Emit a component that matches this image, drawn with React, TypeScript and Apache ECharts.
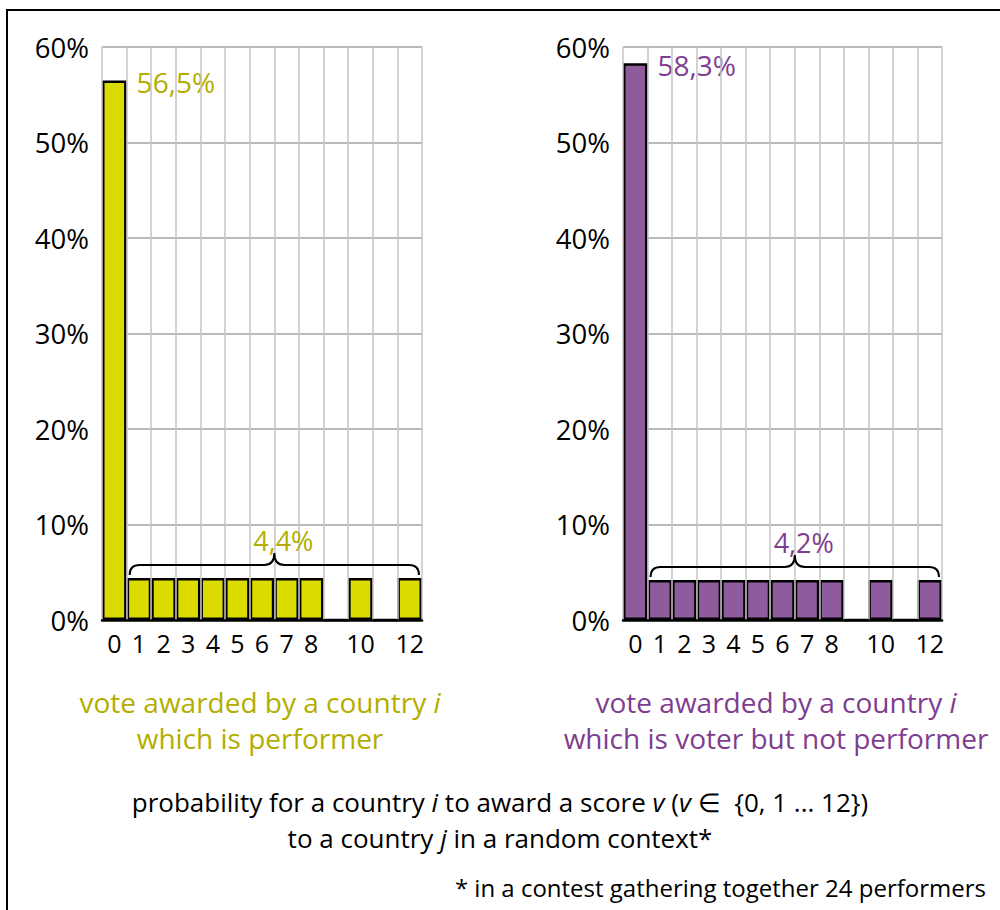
import React, { useEffect, useRef } from "react";
import * as echarts from "echarts";

const scores = ["0", "1", "2", "3", "4", "5", "6", "7", "8", "9", "10", "11", "12"];
const scoreLabels = ["0", "1", "2", "3", "4", "5", "6", "7", "8", "", "10", "", "12"];
const performerShares = [56.5, 4.4, 4.4, 4.4, 4.4, 4.4, 4.4, 4.4, 4.4, 0, 4.4, 0, 4.4];
const voterShares = [58.3, 4.2, 4.2, 4.2, 4.2, 4.2, 4.2, 4.2, 4.2, 0, 4.2, 0, 4.2];
// brace: [first score index, last score index, share of each non-zero score]
const performerBrace = [1, 12, 4.4];
const voterBrace = [1, 12, 4.2];
const yTicks = [0, 10, 20, 30, 40, 50, 60];

const YELLOW = "#dcdb00";
const YELLOW_TEXT = "#b3ad00";
const PURPLE = "#8e5b9d";
const PURPLE_TEXT = "#7f3d90";
const FONT = "Open Sans";

const fmt = (v: number) => v.toFixed(1).replace(".", ",") + "%";

function barSeries(values: number[], idx: number, color: string, textColor: string) {
  return {
    type: "bar",
    xAxisIndex: idx,
    yAxisIndex: idx,
    barWidth: "100%",
    barCategoryGap: 0,
    itemStyle: { color, borderColor: "#000", borderWidth: 2.5 },
    data: values.map((v, i) =>
      i === 0
        ? {
            value: v,
            label: {
              show: true,
              position: ["100%", 0],
              offset: [10, 2],
              align: "left",
              verticalAlign: "middle",
              formatter: (p: any) => fmt(p.value),
              color: textColor,
              fontSize: 28,
              fontFamily: FONT,
            },
          }
        : v
    ),
    z: 3,
  };
}

function braceSeries(brace: number[], idx: number, textColor: string) {
  return {
    type: "custom",
    xAxisIndex: idx,
    yAxisIndex: idx,
    clip: false,
    z: 5,
    encode: { x: [0, 1], y: 2 },
    data: [brace],
    renderItem: (params: any, api: any) => {
      const a = api.coord([api.value(0), api.value(2)]);
      const b = api.coord([api.value(1), api.value(2)]);
      const w = api.size([1, 0])[0];
      const L = a[0] - w / 2 + 3;
      const R = b[0] + w / 2 - 3;
      const T = (a[0] - w / 2 + b[0] + w / 2) / 2;
      const yb = a[1] - 3;
      const ym = a[1] - 13;
      const yt = a[1] - 25;
      const d =
        `M${L},${yb} Q${L},${ym} ${L + 10},${ym} L${T - 10},${ym} Q${T},${ym} ${T},${yt} ` +
        `Q${T},${ym} ${T + 10},${ym} L${R - 10},${ym} Q${R},${ym} ${R},${yb}`;
      return {
        type: "group",
        children: [
          {
            type: "path",
            shape: { pathData: d },
            style: { fill: "none", stroke: "#000", lineWidth: 2 },
          },
          {
            type: "text",
            x: T + 9,
            y: a[1] - 37,
            style: {
              text: fmt(api.value(2)),
              fill: textColor,
              font: `27px "${FONT}"`,
              align: "center",
              verticalAlign: "middle",
            },
          },
        ],
      };
    },
  };
}

function xAxis(idx: number) {
  return {
    type: "category",
    gridIndex: idx,
    data: scores,
    boundaryGap: true,
    axisLine: { show: true, lineStyle: { color: "#000", width: 2.5 } },
    axisTick: { show: false },
    axisLabel: {
      interval: 0,
      margin: 10,
      color: "#000",
      fontSize: 25,
      fontFamily: FONT,
      formatter: (_v: string, i: number) => scoreLabels[i],
    },
    splitLine: { show: true, interval: 0, lineStyle: { color: "#c4c4c4", width: 1.5 } },
    z: 4,
  };
}

function yAxis(idx: number) {
  return {
    type: "value",
    gridIndex: idx,
    min: yTicks[0],
    max: yTicks[yTicks.length - 1],
    interval: yTicks[1] - yTicks[0],
    axisLine: { show: false },
    axisTick: { show: false },
    axisLabel: {
      margin: 13,
      color: "#000",
      fontSize: 27.5,
      fontFamily: FONT,
      formatter: "{value}%",
    },
    splitLine: { show: true, lineStyle: { color: "#a3a3a3", width: 1.5 } },
  };
}

export default function App() {
  const ref = useRef<HTMLDivElement>(null);
  useEffect(() => {
    if (!ref.current) return;
    const chart = echarts.init(ref.current, null, { renderer: "svg" });
    const it = { fontStyle: "italic", fontFamily: FONT };
    chart.setOption({
      animation: false,
      backgroundColor: "#fff",
      textStyle: { fontFamily: FONT },
      grid: [
        { left: 102, top: 47, width: 320, height: 573 },
        { left: 623, top: 47, width: 319, height: 573 },
      ],
      xAxis: [xAxis(0), xAxis(1)],
      yAxis: [yAxis(0), yAxis(1)],
      series: [
        barSeries(performerShares, 0, YELLOW, YELLOW_TEXT),
        barSeries(voterShares, 1, PURPLE, PURPLE_TEXT),
        braceSeries(performerBrace, 0, YELLOW_TEXT),
        braceSeries(voterBrace, 1, PURPLE_TEXT),
      ],
      graphic: [
        {
          type: "rect",
          shape: { x: 7, y: 10, width: 1000, height: 920 },
          style: { fill: "none", stroke: "#000", lineWidth: 2 },
          silent: true,
        },
        {
          type: "text",
          x: 260,
          y: 720,
          style: {
            text: "vote awarded by a country {i|i}\nwhich is performer",
            fill: YELLOW_TEXT,
            fontSize: 28,
            fontFamily: FONT,
            align: "center",
            verticalAlign: "middle",
            lineHeight: 36,
            rich: { i: { ...it, fontSize: 28, fill: YELLOW_TEXT } },
          },
        },
        {
          type: "text",
          x: 776,
          y: 720,
          style: {
            text: "vote awarded by a country {i|i}\nwhich is voter but not performer",
            fill: PURPLE_TEXT,
            fontSize: 28,
            fontFamily: FONT,
            align: "center",
            verticalAlign: "middle",
            lineHeight: 36,
            rich: { i: { ...it, fontSize: 28, fill: PURPLE_TEXT } },
          },
        },
        {
          type: "text",
          x: 500,
          y: 820,
          style: {
            text:
              "probability for a country {i|i} to award a score {i|v} ({i|v} ∈  {0, 1 ... 12})\nto a country {i|j} in a random context*",
            fill: "#000",
            fontSize: 26,
            fontFamily: FONT,
            align: "center",
            verticalAlign: "middle",
            lineHeight: 36,
            rich: { i: { ...it, fontSize: 26, fill: "#000" } },
          },
        },
        {
          type: "text",
          x: 986,
          y: 887,
          style: {
            text: "* in a contest gathering together 24 performers",
            fill: "#000",
            fontSize: 24,
            fontFamily: FONT,
            align: "right",
            verticalAlign: "middle",
          },
        },
      ],
    });
    return () => chart.dispose();
  }, []);
  return (
    <div
      ref={ref}
      style={{ position: "absolute", left: 0, top: 0, width: 1000, height: 910 }}
    />
  );
}
